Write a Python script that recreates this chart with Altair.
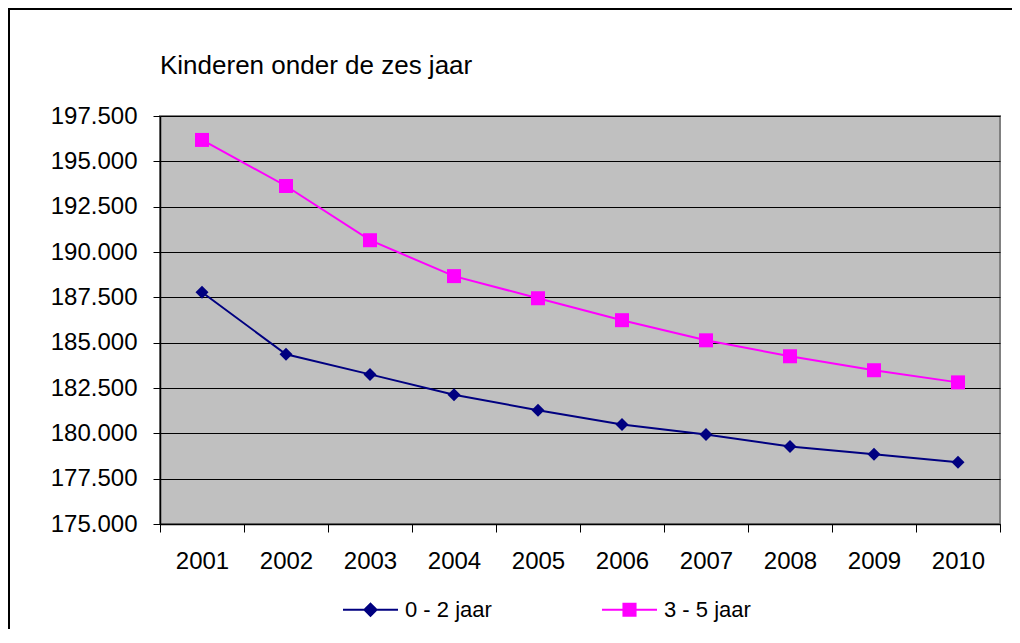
import altair as alt
import pandas as pd

# ---- data ----
years = ["2001", "2002", "2003", "2004", "2005", "2006", "2007", "2008", "2009", "2010"]
age_0_2 = [187780, 184360, 183250, 182130, 181270, 180490, 179940, 179280, 178840, 178400]
age_3_5 = [196180, 193640, 190650, 188670, 187450, 186240, 185130, 184250, 183480, 182810]
series_names = ["0 - 2 jaar", "3 - 5 jaar"]
series_colors = ["#000080", "#FF00FF"]
y_ticks = [175000, 177500, 180000, 182500, 185000, 187500, 190000, 192500, 195000, 197500]
title_text = "Kinderen onder de zes jaar"

df = pd.DataFrame({
    "jaar": years * 2,
    "aantal": age_0_2 + age_3_5,
    "reeks": [series_names[0]] * len(years) + [series_names[1]] * len(years),
})

FONT = "Liberation Sans"

x_enc = alt.X(
    "jaar:N",
    sort=years,
    scale=alt.Scale(type="band", paddingInner=0, paddingOuter=0),
    axis=alt.Axis(
        title=None, labelAngle=0, tickBand="extent", tickSize=8, tickColor="black",
        tickWidth=1, domainColor="black", domainWidth=1.5, labelFontSize=24,
        labelPadding=17, labelColor="black", grid=False,
    ),
)
y_enc = alt.Y(
    "aantal:Q",
    scale=alt.Scale(domain=[175000, 197500], nice=False, zero=False),
    axis=alt.Axis(
        title=None, values=y_ticks,
        labelExpr="replace(format(datum.value, ','), ',', '.')",
        tickSize=7, tickColor="black", tickWidth=1, domainColor="black", domainWidth=1.5,
        labelFontSize=24, labelPadding=16, labelColor="black",
        grid=True, gridColor="black", gridWidth=1.2,
    ),
)
color_scale = alt.Scale(domain=series_names, range=series_colors)

base = alt.Chart(df)

lines = base.mark_line(strokeWidth=2).encode(
    x=x_enc, y=y_enc,
    color=alt.Color("reeks:N", scale=color_scale, legend=None),
)

pts_a = base.transform_filter(alt.datum.reeks == series_names[0]).mark_point(
    shape="diamond", filled=True, size=169, opacity=1
).encode(x=x_enc, y=y_enc, color=alt.value(series_colors[0]))

pts_b = base.transform_filter(alt.datum.reeks == series_names[1]).mark_point(
    shape="square", filled=True, size=196, opacity=1
).encode(x=x_enc, y=y_enc, color=alt.value(series_colors[1]))

legend_shapes = [
    "M-1,0H1M0,-0.22L0.22,0L0,0.22L-0.22,0Z",
    "M-1,0H1M-0.22,-0.22H0.22V0.22H-0.22Z",
]
leg = dict(
    title=None, orient="none", direction="horizontal", columns=2,
    legendX=182, legendY=465, symbolSize=3025, symbolStrokeWidth=2,
    symbolOpacity=1, labelFontSize=22, labelColor="black", labelOffset=6,
    columnPadding=106, padding=0,
)
legend_layer = base.mark_point(filled=True, opacity=0).encode(
    x=x_enc, y=y_enc,
    color=alt.Color("reeks:N", scale=alt.Scale(domain=series_names, range=series_colors),
                    legend=alt.Legend(**leg)),
    stroke=alt.Stroke("reeks:N", scale=alt.Scale(domain=series_names, range=series_colors),
                      legend=alt.Legend(**leg)),
    shape=alt.Shape("reeks:N", scale=alt.Scale(domain=series_names, range=legend_shapes),
                    legend=alt.Legend(**leg)),
)

title = alt.Chart(pd.DataFrame({"titel": [title_text]})).mark_text(
    align="left", baseline="alphabetic", fontSize=26, color="black", font=FONT
).encode(text="titel:N", x=alt.value(0), y=alt.value(-42))

frame_df = pd.DataFrame({"k": [0]})
frame_left = alt.Chart(frame_df).mark_rule(color="black", strokeWidth=2).encode(
    x=alt.value(-151), y=alt.value(-108), y2=alt.value(520)
)
frame_top = alt.Chart(frame_df).mark_rule(color="black", strokeWidth=2).encode(
    y=alt.value(-107), x=alt.value(-152), x2=alt.value(860)
)

chart = alt.layer(
    frame_left, frame_top, title, lines, pts_a, pts_b, legend_layer
).resolve_scale(
    color="independent", stroke="independent", shape="independent"
).resolve_legend(
    color="independent", stroke="independent", shape="independent"
).properties(
    width=840, height=408,
    autosize=alt.AutoSizeParams(type="none"),
    padding={"left": 152, "top": 108, "right": 12, "bottom": 105},
    background="white",
).configure(font=FONT).configure_view(
    fill="#C0C0C0", stroke="#808080", strokeWidth=2
)

chart.save("out.html", embed_options={"renderer": "svg", "actions": False})
